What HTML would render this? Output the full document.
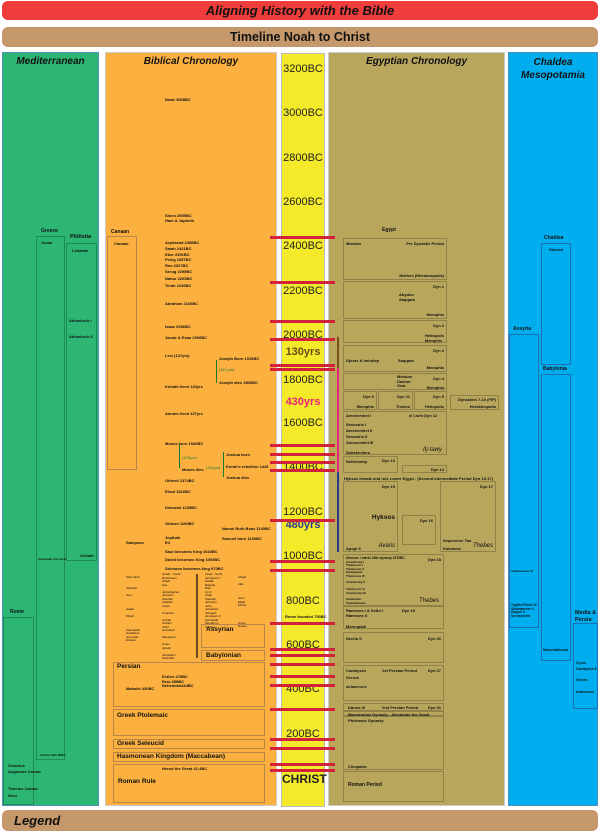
<!DOCTYPE html>
<html><head><meta charset="utf-8"><style>
*{margin:0;padding:0;box-sizing:border-box}
body{width:600px;height:832px;background:#fff;position:relative;overflow:hidden;font-family:"Liberation Sans",sans-serif;color:#111}
div{position:absolute}
.bar{border-radius:6px;text-align:center;font-weight:bold}
.col{border:1px solid #4a90c0}
.h{font-style:italic;font-weight:bold;font-size:10px;text-align:center;width:100%}
.b{border:1px solid rgba(0,0,0,0.22)}
.g{border:1px solid #1f8c52}
.u{border:1px solid #1d6fb0}
.o{border:1px solid #b8864a}
.t{font-size:4px;font-weight:bold;white-space:nowrap}
.s{font-size:3px;white-space:nowrap;line-height:3.5px}
.m{font-size:6.5px;font-weight:bold;white-space:nowrap}
.yr{left:282px;width:42px;text-align:center;font-size:11px;color:#222}
.rb{left:270px;width:65px;height:3px;background:#d0223a}
</style></head><body>
<div class="bar" style="left:2px;top:1px;width:596px;height:19px;background:#ee3d3a;font-size:13px;font-style:italic;line-height:19px">Aligning History with the Bible</div>
<div class="bar" style="left:2px;top:27px;width:596px;height:20px;background:#c4986a;font-size:12.5px;line-height:20px">Timeline Noah to Christ</div>
<div class="bar" style="left:2px;top:810px;width:596px;height:21px;background:#c4986a;font-size:13px;font-style:italic;line-height:21px;text-align:left;padding-left:12px">Legend</div>

<div class="col" style="left:2px;top:52px;width:97px;height:754px;background:#2db673"><div class="h" style="top:3px">Mediterranean</div></div>
<div class="col" style="left:105px;top:52px;width:172px;height:754px;background:#fbb040;border-color:#ccc"><div class="h" style="top:3px">Biblical Chronology</div></div>
<div style="left:281px;top:53px;width:44px;height:754px;background:#f4ea2a;border:1px solid #bbb"></div>
<div class="col" style="left:328px;top:52px;width:177px;height:754px;background:#b8a65c;border-color:#ccc"><div class="h" style="top:3px">Egyptian Chronology</div></div>
<div class="col" style="left:508px;top:52px;width:90px;height:754px;background:#00aeef"><div class="h" style="top:3px;line-height:13px">Chaldea<br>Mesopotamia</div></div>

<div class="yr" style="top:63px">3200BC</div>
<div class="yr" style="top:107px">3000BC</div>
<div class="yr" style="top:152px">2800BC</div>
<div class="yr" style="top:196px">2600BC</div>
<div class="yr" style="top:240px">2400BC</div>
<div class="yr" style="top:285px">2200BC</div>
<div class="yr" style="top:329px">2000BC</div>
<div class="yr" style="top:374px">1800BC</div>
<div class="yr" style="top:417px">1600BC</div>
<div class="yr" style="top:461px">1400BC</div>
<div class="yr" style="top:506px">1200BC</div>
<div class="yr" style="top:550px">1000BC</div>
<div class="yr" style="top:595px">800BC</div>
<div class="yr" style="top:639px">600BC</div>
<div class="yr" style="top:683px">400BC</div>
<div class="yr" style="top:728px">200BC</div>
<div class="yr" style="top:772px;font-weight:bold;font-size:12px">CHRIST</div>
<div class="yr" style="top:346px;font-weight:bold;font-size:11px;color:#6b4a1a">130yrs</div>
<div class="yr" style="top:396px;font-weight:bold;font-size:11px;color:#e8227a">430yrs</div>
<div class="yr" style="top:519px;font-weight:bold;font-size:11px;color:#2b3a8f">480yrs</div>
<div style="left:337px;top:337px;width:2px;height:31px;background:#7a4e1e"></div>
<div style="left:337px;top:368px;width:2px;height:110px;background:#e8227a"></div>
<div style="left:337px;top:472px;width:2px;height:80px;background:#2b3a8f"></div>

<div class="rb" style="top:236px"></div><div class="rb" style="top:281px"></div>
<div class="rb" style="top:320px"></div><div class="rb" style="top:338px"></div>
<div class="rb" style="top:364px"></div><div class="rb" style="top:368px"></div>
<div class="rb" style="top:444px"></div><div class="rb" style="top:453px"></div>
<div class="rb" style="top:461px"></div><div class="rb" style="top:469px"></div>
<div class="rb" style="top:519px"></div><div class="rb" style="top:560px"></div>
<div class="rb" style="top:569px"></div><div class="rb" style="top:622px"></div>
<div class="rb" style="top:648px"></div><div class="rb" style="top:654px"></div>
<div class="rb" style="top:663px"></div><div class="rb" style="top:675px"></div>
<div class="rb" style="top:684px"></div><div class="rb" style="top:708px"></div>
<div class="rb" style="top:738px"></div><div class="rb" style="top:747px"></div>
<div class="rb" style="top:763px"></div><div class="rb" style="top:769px"></div>
<div class="t" style="left:285px;top:614px">Rome founded 753BC</div>

<div class="m" style="left:41px;top:228px;font-size:5px">Greece</div>
<div class="g" style="left:36px;top:236px;width:29px;height:524px"><div class="t" style="left:4px;top:3px">Javan</div><div class="t" style="left:1px;top:320px;font-size:3px">Alexander the Great</div><div class="t" style="left:3px;top:516px;font-size:3px">Athens falls 86BC</div></div>
<div class="m" style="left:70px;top:234px;font-size:5.5px">Philistia</div>
<div class="g" style="left:66px;top:243px;width:31px;height:318px"><div class="t" style="left:5px;top:4px">Lehabim</div><div class="t" style="left:2px;top:74px">Abimelech I</div><div class="t" style="left:2px;top:90px">Abimelech II</div><div class="t" style="left:13px;top:309px">Goliath</div></div>
<div class="m" style="left:10px;top:609px;font-size:5px">Rome</div>
<div class="g" style="left:3px;top:617px;width:31px;height:188px"><div class="t" style="left:4px;top:145px;line-height:6px">Octavius<br>Augustus Caesar</div><div class="t" style="left:4px;top:168px">Tiberius Caesar</div><div class="t" style="left:4px;top:175px">Nero</div></div>

<div class="t" style="left:165px;top:97px">Noah 3058BC</div>
<div class="t" style="left:165px;top:213px;line-height:5px">Shem 2555BC<br>Ham &amp; Japheth</div>
<div class="m" style="left:111px;top:229px;font-size:5px">Canaan</div>
<div class="o" style="left:107px;top:236px;width:30px;height:234px"><div class="t" style="left:6px;top:4px">Canaan</div></div>
<div class="t" style="left:165px;top:240px;line-height:5.8px">Arphaxad 2456BC<br>Salah 2421BC<br>Eber 2391BC<br>Peleg 2357BC<br>Reu 2327BC<br>Serug 2295BC</div>
<div class="t" style="left:165px;top:276px">Nahor 2265BC</div>
<div class="t" style="left:165px;top:283px">Terah 2236BC</div>
<div class="t" style="left:165px;top:301px">Abraham 2166BC</div>
<div class="t" style="left:165px;top:324px">Isaac 2066BC</div>
<div class="t" style="left:165px;top:335px">Jacob &amp; Esau 2006BC</div>
<div class="t" style="left:165px;top:353px">Levi (137yrs)</div>
<div class="t" style="left:219px;top:356px">Joseph Born 1916BC</div>
<div style="left:216px;top:360px;width:1px;height:23px;background:#1a7a30"></div>
<div class="t" style="left:219px;top:367px;color:#1a7a30;font-weight:normal">(110 yrs)</div>
<div class="t" style="left:219px;top:380px">Joseph dies 1806BC</div>
<div class="t" style="left:165px;top:384px">Kohath lived 133yrs</div>
<div class="t" style="left:165px;top:411px">Amram lived 137yrs</div>
<div class="t" style="left:165px;top:441px">Moses born 1526BC</div>
<div style="left:179px;top:444px;width:1px;height:24px;background:#1a7a30"></div>
<div class="t" style="left:182px;top:455px;color:#1a7a30;font-weight:normal">(120yrs)</div>
<div class="t" style="left:182px;top:467px">Moses dies</div>
<div class="t" style="left:206px;top:465px;color:#1a7a30;font-weight:normal">(110yrs)</div>
<div style="left:223px;top:452px;width:1px;height:25px;background:#1a7a30"></div>
<div class="t" style="left:226px;top:452px">Joshua born</div>
<div class="t" style="left:226px;top:464px">Korah's rebellion 1426</div>
<div class="t" style="left:226px;top:475px">Joshua dies</div>
<div class="t" style="left:165px;top:478px">Othneil 1374BC</div>
<div class="t" style="left:165px;top:489px">Ehud 1316BC</div>
<div class="t" style="left:165px;top:505px">Deborah 1235BC</div>
<div class="t" style="left:165px;top:521px">Gideon 1169BC</div>
<div class="t" style="left:222px;top:526px">Naomi Ruth Boaz 1140BC</div>
<div class="t" style="left:165px;top:535px;line-height:5px">Jepthah<br>Eli</div>
<div class="t" style="left:126px;top:540px">Sampson</div>
<div class="t" style="left:222px;top:536px">Samuel born 1100BC</div>
<div class="t" style="left:165px;top:549px">Saul becomes King 1043BC</div>
<div class="t" style="left:165px;top:557px">David becomes King 1003BC</div>
<div class="t" style="left:165px;top:566px">Solomon becomes king 970BC</div>
<div class="s" style="left:162px;top:573px">Judah - South<br>Rehoboam<br>Abijah<br>Asa<br><br>Jehoshaphat<br>Jehoram<br>Ahaziah<br>Athaliah<br>Joash<br><br>Amaziah<br><br>Uzziah<br>Jotham<br>Ahaz<br>Hezekiah<br><br>Manasseh<br><br>Amon<br>Josiah<br><br>Jehoiakim<br>Zedekiah</div>
<div style="left:196px;top:574px;width:1.5px;height:84px;background:#6b4a1a"></div>
<div class="s" style="left:205px;top:573px">Israel - North<br>Jeroboam I<br>Nadab<br>Baasha<br>Elah<br>Omri<br>Ahab<br>Ahaziah<br>Jehoram<br>Jehu<br>Jehoahaz<br>Jehoash<br>Jeroboam II<br>Zechariah<br>Menahem<br>Hoshea</div>
<div class="s" style="left:126px;top:576px">Shemaiah<br><br><br>Jahaziel<br><br>Joel<br><br><br><br>Isaiah<br><br>Micah<br><br><br><br>Zephaniah<br>Habakkuk<br>Jeremiah<br>Ezekiel</div>
<div class="s" style="left:238px;top:576px">Ahijah<br><br>Iddo<br><br><br><br>Jehu<br>Elijah<br>Elisha<br><br><br><br><br>Amos<br>Hosea</div>
<div class="o" style="left:201px;top:624px;width:64px;height:24px"><div class="m" style="left:4px;top:1px">Assyrian</div></div>
<div class="o" style="left:201px;top:650px;width:64px;height:11px"><div class="m" style="left:4px;top:1px">Babylonian</div></div>
<div class="o" style="left:113px;top:662px;width:152px;height:45px"><div class="m" style="left:3px;top:0px">Persian</div><div class="t" style="left:48px;top:12px;line-height:4.5px">Esther 478BC<br>Ezra 458BC<br>Nehemiah444BC</div><div class="t" style="left:12px;top:23px">Malachi 430BC</div></div>
<div class="o" style="left:113px;top:709px;width:152px;height:27px"><div class="m" style="left:3px;top:2px">Greek Ptolemaic</div></div>
<div class="o" style="left:113px;top:739px;width:152px;height:10px"><div class="m" style="left:3px;top:0px">Greek Seleucid</div></div>
<div class="o" style="left:113px;top:752px;width:152px;height:10px"><div class="m" style="left:3px;top:0px">Hasmonean Kingdom (Maccabean)</div></div>
<div class="o" style="left:113px;top:764px;width:152px;height:39px"><div class="t" style="left:48px;top:1px">Herod the Great 41-4BC</div><div class="m" style="left:4px;top:13px">Roman Rule</div></div>

<div class="m" style="left:382px;top:227px;font-size:5px">Egypt</div>
<div class="b" style="left:343px;top:238px;width:104px;height:42px"><div class="t" style="left:2px;top:2px">Misraim</div><div class="t" style="right:2px;top:2px">Pre Dynastic Period</div><div class="t" style="right:2px;top:34px">Nekhen (Hierakonpolis)</div></div>
<div class="b" style="left:343px;top:281px;width:104px;height:38px"><div class="t" style="right:2px;top:2px">Dyn 1</div><div class="t" style="left:55px;top:10px;line-height:5px">Abydos<br>Saqqara</div><div class="t" style="right:2px;top:30px">Memphis</div></div>
<div class="b" style="left:343px;top:320px;width:104px;height:23px"><div class="t" style="right:2px;top:2px">Dyn 2</div><div class="t" style="right:2px;top:12px;line-height:5px">Heliopolis<br>Memphis</div></div>
<div class="b" style="left:343px;top:345px;width:104px;height:27px"><div class="t" style="right:2px;top:2px">Dyn 3</div><div class="t" style="left:2px;top:12px">Djoser &amp; Imhotep</div><div class="t" style="left:54px;top:12px">Saqqara</div><div class="t" style="right:2px;top:19px">Memphis</div></div>
<div class="b" style="left:343px;top:373px;width:104px;height:17px"><div class="t" style="left:53px;top:1px;line-height:4.5px">Meidum<br>Dashur<br>Giza</div><div class="t" style="right:2px;top:2px">Dyn 4</div><div class="t" style="right:2px;top:11px">Memphis</div></div>
<div class="b" style="left:343px;top:391px;width:34px;height:19px"><div class="t" style="right:2px;top:2px">Dyn 6</div><div class="t" style="right:2px;top:12px">Memphis</div></div>
<div class="b" style="left:378px;top:391px;width:35px;height:19px"><div class="t" style="right:2px;top:2px">Dyn 11</div><div class="t" style="right:2px;top:12px">Thebes</div></div>
<div class="b" style="left:414px;top:391px;width:33px;height:19px"><div class="t" style="right:2px;top:2px">Dyn 5</div><div class="t" style="right:2px;top:12px">Heliopolis</div></div>
<div class="b" style="left:450px;top:395px;width:49px;height:15px"><div class="t" style="right:2px;top:1px">Dynasties 7-10 (FIP)</div><div class="t" style="right:2px;top:8px">Herakleopolis</div></div>
<div class="b" style="left:343px;top:411px;width:104px;height:44px"><div class="t" style="left:2px;top:1px">Amenemhet I</div><div class="t" style="left:65px;top:1px">el Lisht Dyn 12</div><div class="t" style="left:2px;top:10px;line-height:6px">Sesostris I<br>Amenemhet II<br>Sesostris II<br>Amenemhet III</div><div class="t" style="left:2px;top:38px">Sobekneferu</div><div class="t" style="right:4px;top:35px;font-style:italic;font-weight:normal;font-size:6px">Itj-tawy</div></div>
<div class="b" style="left:343px;top:456px;width:55px;height:17px"><div class="t" style="left:2px;top:2px">Neferhotep</div><div class="t" style="right:2px;top:1px">Dyn 13</div></div>
<div class="b" style="left:402px;top:465px;width:45px;height:8px"><div class="t" style="right:2px;top:1px">Dyn 14</div></div>
<div class="t" style="left:344px;top:476px">Hyksos Invade and rule Lower Egypt - (Second Intermediate Period Dyn 15-17)</div>
<div class="b" style="left:343px;top:481px;width:55px;height:71px"><div class="t" style="right:2px;top:2px">Dyn 15</div><div class="m" style="right:2px;top:32px">Hyksos</div><div class="t" style="left:2px;top:64px">Apopi II</div><div class="t" style="right:2px;top:61px;font-style:italic;font-weight:normal;font-size:6px">Avaris</div></div>
<div class="b" style="left:402px;top:515px;width:34px;height:30px"><div class="t" style="right:2px;top:2px">Dyn 16</div></div>
<div class="b" style="left:440px;top:481px;width:56px;height:71px"><div class="t" style="right:2px;top:2px">Dyn 17</div><div class="t" style="left:2px;top:56px">Seqenenre Tao</div><div class="t" style="left:2px;top:64px">Kahmose</div><div class="t" style="right:2px;top:61px;font-style:italic;font-weight:normal;font-size:6px">Thebes</div></div>
<div class="b" style="left:343px;top:554px;width:101px;height:52px"><div class="t" style="left:2px;top:1px;font-size:3.3px">Ahmose I starts 18th dynasty 1570BC</div><div class="t" style="right:2px;top:2px">Dyn 18</div><div class="s" style="left:2px;top:6px;font-weight:bold;line-height:3.4px">Amenhotep I<br>Thutmosis I<br>Thutmosis II<br>Hatshepsut<br>Thutmosis III<br><br>Amenhotep II<br><br>Thutmosis IV<br>Amenhotep III<br><br>Akhenaten<br>Tutankhamun</div><div class="t" style="right:4px;top:43px;font-style:italic;font-weight:normal;font-size:6px">Thebes</div></div>
<div class="b" style="left:343px;top:606px;width:101px;height:23px"><div class="t" style="left:2px;top:1px">Rameses I &amp; Sethi I</div><div class="t" style="right:28px;top:1px">Dyn 19</div><div class="t" style="left:2px;top:6px">Rameses II</div><div class="t" style="left:2px;top:17px">Merenptah</div></div>
<div class="b" style="left:343px;top:632px;width:101px;height:31px"><div class="t" style="left:2px;top:3px">Necho II</div><div class="t" style="right:2px;top:3px">Dyn 26</div></div>
<div class="b" style="left:343px;top:665px;width:101px;height:36px"><div class="t" style="left:2px;top:2px">Cambyses</div><div class="t" style="left:38px;top:2px">1st Persian Period</div><div class="t" style="right:2px;top:2px">Dyn 27</div><div class="t" style="left:2px;top:9px">Xerxes</div><div class="t" style="left:2px;top:18px">Artaxerxes</div></div>
<div class="b" style="left:343px;top:703px;width:101px;height:8px"><div class="t" style="left:4px;top:1px">Darius III</div><div class="t" style="left:38px;top:1px">2nd Persian Period</div><div class="t" style="right:2px;top:1px">Dyn 31</div></div>
<div class="b" style="left:343px;top:711px;width:101px;height:5px"><div class="t" style="left:4px;top:0px">Macedonian Dynasty - Alexander the Great</div></div>
<div class="b" style="left:343px;top:716px;width:101px;height:54px"><div class="t" style="left:4px;top:1px">Ptolemaic Dynasty</div><div class="t" style="left:4px;top:47px">Cleopatra</div></div>
<div class="b" style="left:343px;top:771px;width:101px;height:31px"><div class="m" style="left:4px;top:10px;font-size:5px">Roman Period</div></div>

<div class="m" style="left:544px;top:235px;font-size:5px">Chaldea</div>
<div class="u" style="left:541px;top:243px;width:30px;height:122px"><div class="t" style="left:7px;top:3px">Nimrod</div></div>
<div class="m" style="left:513px;top:326px;font-size:5px">Assyria</div>
<div class="u" style="left:509px;top:334px;width:30px;height:294px"><div class="t" style="left:1px;top:234px;font-size:3px">Shalmaneser III</div><div class="s" style="left:1px;top:269px;font-weight:bold;font-size:3.2px">Tiglath-Pileser III<br>Shalmaneser V<br>Sargon II<br>Sennacherib</div></div>
<div class="m" style="left:543px;top:366px;font-size:5px">Babylonia</div>
<div class="u" style="left:541px;top:374px;width:30px;height:287px"><div class="t" style="left:1px;top:273px;font-size:3.2px">Nebuchadnezzar</div></div>
<div class="m" style="left:575px;top:610px;font-size:5.5px;line-height:7px">Media &amp;<br>Persia</div>
<div class="u" style="left:573px;top:623px;width:25px;height:86px"><div class="s" style="left:2px;top:37px;font-weight:bold;line-height:5.8px;font-size:3.5px">Cyrus<br>Cambyses II<br><br>Xerxes<br><br>Artaxerxes</div></div>
</body></html>
